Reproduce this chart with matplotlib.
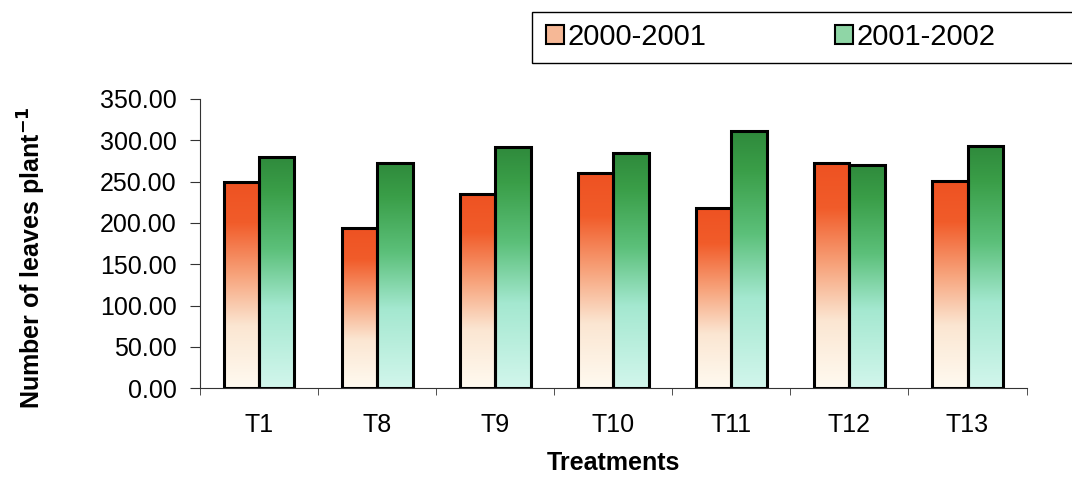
import matplotlib
matplotlib.use("Agg")
import matplotlib.pyplot as plt
import numpy as np
from matplotlib.colors import LinearSegmentedColormap
from matplotlib.patches import Patch, Rectangle

treatments = ["T1", "T8", "T9", "T10", "T11", "T12", "T13"]
y2000 = [250, 194, 235, 260, 218, 272, 251]
y2001 = [280, 273, 292, 284, 311, 270, 293]
series_names = ["2000-2001", "2001-2002"]

plt.rcParams["font.family"] = ["Liberation Sans", "DejaVu Sans"]

# gradients run bottom (0) -> top (1)
orange_cm = LinearSegmentedColormap.from_list(
    "orng", [(0.0, "#fffaf0"), (0.3, "#fbe6d2"), (0.55, "#f7a27a"), (0.8, "#f15c2a"), (1.0, "#ee5222")])
green_cm = LinearSegmentedColormap.from_list(
    "grn", [(0.0, "#d2f6ec"), (0.35, "#a4e8d0"), (0.6, "#5cc07a"), (0.85, "#3a9e48"), (1.0, "#2f8a3c")])

fig = plt.figure(figsize=(10.72, 4.78), dpi=100)
ax = fig.add_axes([0.1866, 0.188, 0.771, 0.605])

x = np.arange(len(treatments))
w = 0.3
grad = np.linspace(0, 1, 256).reshape(-1, 1)
for vals, off, cm in [(y2000, -w / 2, orange_cm), (y2001, w / 2, green_cm)]:
    bars = ax.bar(x + off, vals, w, facecolor="none", edgecolor="black", linewidth=2.2, zorder=3)
    for b in bars:
        x0, h = b.get_x(), b.get_height()
        im = ax.imshow(grad, cmap=cm, origin="lower", aspect="auto",
                       extent=[x0, x0 + w, 0, h], zorder=2)
        im.set_clip_path(b)

ax.set_xlim(-0.5, len(treatments) - 0.5)
ax.set_ylim(0, 350)
ax.set_yticks(np.arange(0, 351, 50))
ax.set_yticklabels([f"{v:.2f}" for v in np.arange(0, 351, 50)], fontsize=18)
ax.set_xticks(x)
ax.set_xticklabels(treatments, fontsize=18)
ax.set_xticks(np.arange(-0.5, len(treatments), 1), minor=True)
ax.tick_params(axis="x", which="major", length=0, pad=18)
ax.tick_params(axis="x", which="minor", length=5, direction="out", color="#333333")
ax.tick_params(axis="y", length=7, direction="out", pad=10, color="#333333")
for s in ["top", "right"]:
    ax.spines[s].set_visible(False)
for s in ["left", "bottom"]:
    ax.spines[s].set_color("#333333")
ax.set_xlabel("Treatments", fontsize=18, fontweight="bold", labelpad=10)
ax.set_ylabel("Number of leaves plant$^{\\mathbf{-1}}$", fontsize=18, fontweight="bold")
ax.yaxis.set_label_coords(-0.184, 0.45)

# legend box runs off the right edge in the original
fig.patches.append(Rectangle((532 / 1072, 1 - 63 / 478), 560 / 1072, 51 / 478,
                             transform=fig.transFigure, facecolor="white",
                             edgecolor="black", linewidth=1.0))
handles = [Patch(facecolor="#f6b896", edgecolor="black", linewidth=1.5),
           Patch(facecolor="#8fd6a6", edgecolor="black", linewidth=1.5)]
leg = fig.legend(handles, series_names, ncol=2, loc="center left",
                 bbox_to_anchor=(546 / 1072, 1 - 37 / 478), fontsize=21, frameon=False,
                 handlelength=0.6, handleheight=0.6, borderpad=0.0, borderaxespad=0.0,
                 handletextpad=0.15, columnspacing=4.4)

fig.savefig("out.png", dpi=100)
plt.close(fig)
